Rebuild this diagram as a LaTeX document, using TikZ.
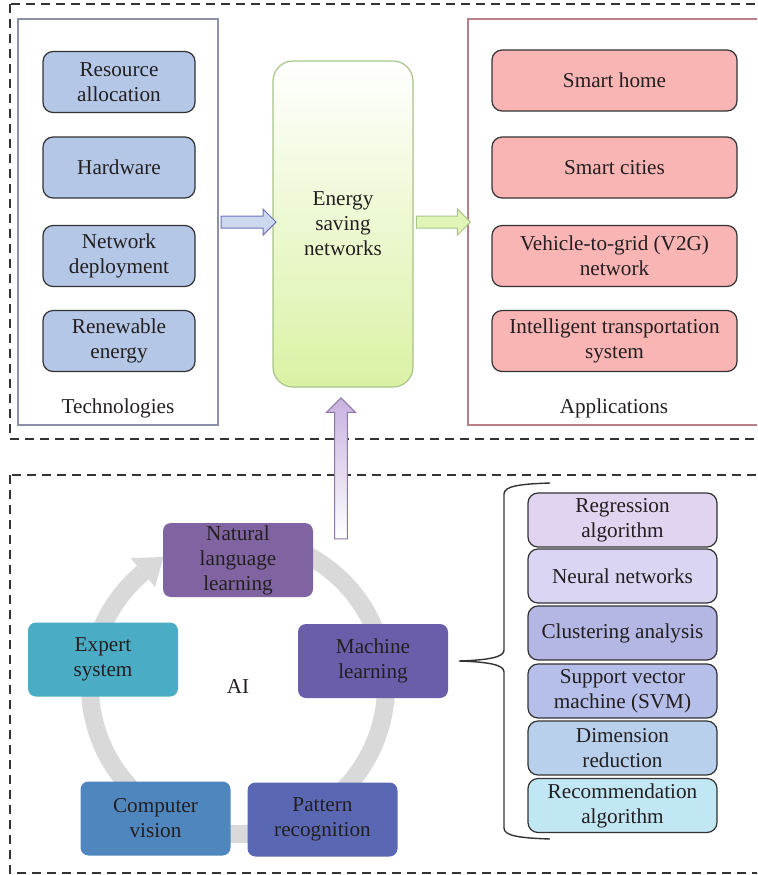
\documentclass[tikz,border=0pt]{standalone}
\usepackage{fontspec}
\setmainfont{Liberation Serif}
\usetikzlibrary{shapes.arrows,calc}

\definecolor{txt}{HTML}{231F20}
\definecolor{edge}{HTML}{333333}
\definecolor{techblue}{HTML}{B4C7E7}
\definecolor{appred}{HTML}{F9B4B4}
\definecolor{techframe}{HTML}{8B8FA8}
\definecolor{appframe}{HTML}{B88088}
\definecolor{esngreen}{HTML}{DAF2A4}
\definecolor{esnedge}{HTML}{A9C48A}
\definecolor{ringgray}{HTML}{D9D9D9}
\definecolor{nllpurple}{HTML}{8064A2}
\definecolor{mlpurple}{HTML}{6A5EAB}
\definecolor{escyan}{HTML}{4BACC6}
\definecolor{cvblue}{HTML}{4F86BD}
\definecolor{prblue}{HTML}{5A67B3}
\definecolor{aiedge}{HTML}{8E78A8}
\definecolor{aiarrow}{HTML}{C8B2E0}
\definecolor{alg1}{HTML}{E0D4F0}
\definecolor{alg2}{HTML}{D9D5F2}
\definecolor{alg3}{HTML}{B4B6E4}
\definecolor{alg4}{HTML}{B6BFE9}
\definecolor{alg5}{HTML}{B8D0EC}
\definecolor{alg6}{HTML}{C2E7F4}

\begin{document}
\begin{tikzpicture}[x=0.5pt,y=-0.5pt,
  every node/.style={font=\fontsize{10.6}{12.5}\selectfont, text=txt, align=center},
  techbox/.style={rectangle, draw=edge, line width=0.6pt, fill=techblue,
    rounded corners=5pt, minimum width=76pt, minimum height=30.5pt, inner sep=1pt},
  appbox/.style={techbox, fill=appred, minimum width=122.5pt},
  frame/.style={rectangle, line width=0.7pt, inner sep=0pt},
  region/.style={draw=edge, line width=0.65pt, dash pattern=on 4.5pt off 3pt},
  aibox/.style={rectangle, rounded corners=4pt, minimum width=75pt, minimum height=37pt, inner sep=1pt},
  algbox/.style={rectangle, draw=edge, line width=0.6pt, rounded corners=5pt,
    minimum width=94.5pt, minimum height=27pt, inner sep=1pt},
  blockarrow/.style={single arrow, line width=0.5pt, inner sep=2.75pt,
    single arrow head extend=3.5pt}
]
\clip (0,0) rectangle (757,875);

% dashed regions
\draw[region] (10,4) rectangle (780,439);
\draw[region] (10,475) rectangle (780,873);

% technologies
\node[frame, draw=techframe, minimum width=100pt, minimum height=203pt] (techframe) at (118,222) {};
\node (techlabel) at (118,408) {Technologies};
\node[techbox] (res) at (119,82) {Resource\\allocation};
\node[techbox] (hw)  at (119,167.5) {Hardware};
\node[techbox] (dep) at (119,256) {Network\\deployment};
\node[techbox] (ren) at (119,341) {Renewable\\energy};

% energy saving networks
\node[rectangle, draw=esnedge, line width=0.6pt, rounded corners=10pt, top color=white,
  bottom color=esngreen, minimum width=70pt, minimum height=163pt] (esn) at (343,224)
  {Energy\\saving\\networks};

% applications
\node[frame, draw=appframe, minimum width=151pt, minimum height=203pt] (appframe) at (619,222) {};
\node (applabel) at (614,408) {Applications};
\node[appbox] (home) at (614.5,80.5) {Smart home};
\node[appbox] (city) at (614.5,167.5) {Smart cities};
\node[appbox] (v2g)  at (614.5,256) {Vehicle-to-grid (V2G)\\network};
\node[appbox] (its)  at (614.5,341) {Intelligent transportation\\system};

% arrows into and out of the green block
\node[blockarrow, draw=techframe!80!blue, fill=techblue!70!white, minimum height=27.5pt]
  (techarrow) at ($(techframe.east)!0.5!(esn.west |- techframe.east)$) {};
\node[blockarrow, draw=esnedge, fill=esngreen!80!white, minimum height=27pt]
  (apparrow) at ($(esn.east |- appframe.west)!0.5!(appframe.west)$) {};

% AI cycle
\coordinate (ringc) at (238,686);
\draw[ringgray, line width=9pt] ($(ringc)+(-70:148)$) arc[start angle=-70, end angle=230, radius=148];
\fill[ringgray] ($(ringc)+(230:167)$) -- ($(ringc)+(240:149)$) -- ($(ringc)+(230:129)$) -- cycle;
\node (ai) at (ringc) {AI};

\node[aibox, fill=nllpurple] (nll) at (238,560) {Natural\\language\\learning};
\node[aibox, fill=mlpurple]  (ml)  at (373,661) {Machine\\learning};
\node[aibox, fill=escyan]    (es)  at (103,659.5) {Expert\\system};
\node[aibox, fill=cvblue]    (cv)  at (155.5,818.5) {Computer\\vision};
\node[aibox, fill=prblue]    (pr)  at (322.5,819.5) {Pattern\\recognition};

% AI feeds the energy saving networks
\node[blockarrow, shape border rotate=90, draw=aiedge, top color=aiarrow,
  bottom color=white, minimum height=70.5pt, inner sep=2.9pt,
  single arrow head extend=4.1pt] (aiarrow) at (341,471.5) {};

% machine learning methods
\foreach \y/\t [count=\i] in {
    520/{Regression\\algorithm},
    576/{Neural networks},
    633/{Clustering analysis},
    691/{Support vector\\machine (SVM)},
    748/{Dimension\\reduction},
    805.5/{Recommendation\\algorithm}}
  \node[algbox, fill=alg\i] (alg\i) at (622.5,\y) {\t};

\coordinate (bracetip) at (459,661);
\draw[edge, line width=0.7pt] (550,483) .. controls (520,484) and (504,486) .. (504,494)
  -- (504,650) .. controls (504,657) and (490,660) .. (bracetip)
  .. controls (490,662) and (504,665) .. (504,672)
  -- (504,828) .. controls (504,836) and (520,838) .. (550,839);
\end{tikzpicture}
\end{document}
